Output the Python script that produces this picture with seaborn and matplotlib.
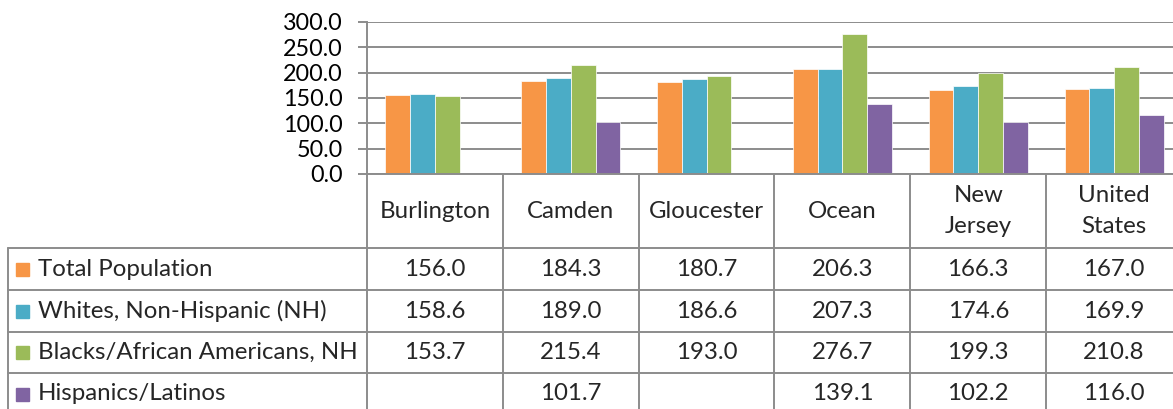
"""
Rates by area and race/ethnicity – Excel-style column chart with data table.
"""

import numpy as np
import pandas as pd
import matplotlib
matplotlib.use("Agg")
import matplotlib.pyplot as plt
import seaborn as sns
from matplotlib.transforms import blended_transform_factory
from matplotlib.patches import Rectangle

sns.set_theme(style="white")
plt.rcParams["font.family"] = ["Lato", "DejaVu Sans"]

AREAS = ["Burlington", "Camden", "Gloucester", "Ocean", "New\nJersey", "United\nStates"]
GROUPS = [
    "Total Population",
    "Whites, Non-Hispanic (NH)",
    "Blacks/African Americans, NH",
    "Hispanics/Latinos",
]
TOTAL = [156.0, 184.3, 180.7, 206.3, 166.3, 167.0]
WHITES = [158.6, 189.0, 186.6, 207.3, 174.6, 169.9]
BLACKS = [153.7, 215.4, 193.0, 276.7, 199.3, 210.8]
HISPANICS = [np.nan, 101.7, np.nan, 139.1, 102.2, 116.0]
COLORS = ["#F79646", "#4BACC6", "#9BBB59", "#8064A2"]
Y_TICKS = [0, 50, 100, 150, 200, 250, 300]

W, H = 1173, 409
LINE = "#8c8c8c"
FS = 17.3
FS_TICK = 16.8


def build_frame() -> pd.DataFrame:
    rows = []
    for group, values in zip(GROUPS, [TOTAL, WHITES, BLACKS, HISPANICS]):
        for area, v in zip(AREAS, values):
            rows.append({"area": area, "group": group, "value": v})
    return pd.DataFrame(rows)


def main():
    df = build_frame()
    fig = plt.figure(figsize=(W / 100, H / 100), dpi=100)

    # plot area in pixel geometry (top-left origin)
    left, right, top, zero = 367, 1182, 22, 174
    ax = fig.add_axes([left / W, (H - zero) / H, (right - left) / W, (zero - top) / H])
    sns.barplot(
        data=df, x="area", y="value", hue="group", order=AREAS, hue_order=GROUPS,
        palette=COLORS, saturation=1, width=0.73, edgecolor="white", linewidth=0.5,
        legend=False, errorbar=None, ax=ax,
    )
    ax.set_xlim(-0.5, len(AREAS) - 0.5)
    ax.set_ylim(0, 300)
    ax.set_yticks(Y_TICKS)
    ax.set_yticklabels([f"{t:.1f}" for t in Y_TICKS], fontsize=FS_TICK, color="black")
    ax.set_xticks([])
    ax.set_xlabel("")
    ax.set_ylabel("")
    ax.yaxis.grid(True, color=LINE, lw=1.4)
    ax.set_axisbelow(True)
    ax.tick_params(axis="y", left=True, length=6.5, width=1.4, color=LINE, pad=11)
    for s in ["top", "right"]:
        ax.spines[s].set_visible(False)
    for s in ["left", "bottom"]:
        ax.spines[s].set_color(LINE)
        ax.spines[s].set_linewidth(1.4)

    # overlay in pixel coordinates for the data table
    ov = fig.add_axes([0, 0, 1, 1], zorder=-1)
    ov.set_xlim(0, W)
    ov.set_ylim(H, 0)
    ov.axis("off")
    trans = blended_transform_factory(ax.transData, ov.transData)

    row_lines = [248, 290, 332, 373, 415]
    tab_left = 8
    # vertical lines
    ov.plot([left, left], [zero, H + 5], color=LINE, lw=1.4, clip_on=False)
    ov.plot([tab_left, tab_left], [row_lines[0], H + 5], color=LINE, lw=1.4)
    for i in range(len(AREAS)):
        ov.plot([i + 0.5, i + 0.5], [zero, H + 5], color=LINE, lw=1.4, transform=trans)
    for y in row_lines[:-1]:
        ov.plot([tab_left, W + 5], [y, y], color=LINE, lw=1.4)

    # header: area names
    for i, area in enumerate(AREAS):
        ov.text(i, (zero + row_lines[0]) / 2, area, transform=trans, ha="center",
                va="center", fontsize=FS, linespacing=1.55)

    # data rows
    for r, (group, values, color) in enumerate(zip(GROUPS, [TOTAL, WHITES, BLACKS, HISPANICS], COLORS)):
        yc = (row_lines[r] + row_lines[r + 1]) / 2
        ov.add_patch(Rectangle((16, yc - 6.5), 13, 13, color=color))
        ov.text(38, yc, group, ha="left", va="center", fontsize=FS)
        for i, v in enumerate(values):
            if not np.isnan(v):
                ov.text(i, yc, f"{v:.1f}", transform=trans, ha="center", va="center", fontsize=FS)

    fig.savefig("out.png", dpi=100)


if __name__ == "__main__":
    main()
